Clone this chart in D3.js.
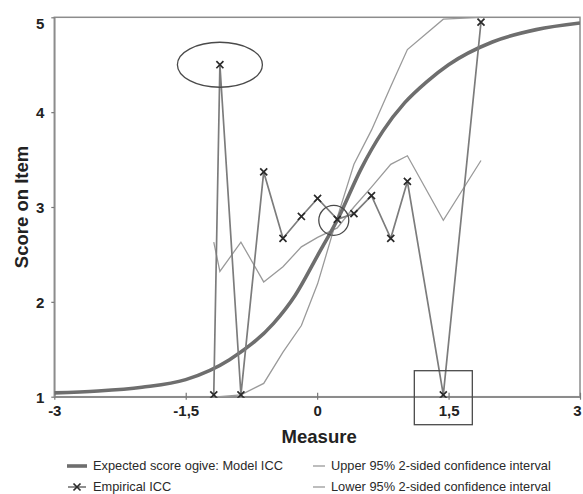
<!DOCTYPE html>
<html>
<head>
<meta charset="utf-8">
<script src="https://cdn.jsdelivr.net/npm/d3@7/dist/d3.min.js"></script>
<style>
  html, body { margin: 0; padding: 0; background: #fff; }
  svg { display: block; }
  text { font-family: "Liberation Sans", Arial, sans-serif; }
</style>
</head>
<body>
<svg id="chart" width="583" height="494"></svg>
<script>
// ---- Data ----
const xTicks = [-3, -1.5, 0, 1.5, 3];
const xTickLabels = ["-3", "-1,5", "0", "1,5", "3"];
const yTicks = [1, 2, 3, 4, 5];
const yTickLabels = ["1", "2", "3", "4", "5"];

// Expected score ogive (Model ICC)
const modelX = [-3, -2.5, -2, -1.5, -1, -0.5, -0.25, 0, 0.25, 0.5, 0.75, 1, 1.25, 1.5, 2, 2.5, 3];
const modelY = [1.04, 1.06, 1.10, 1.18, 1.39, 1.77, 2.07, 2.48, 2.90, 3.40, 3.80, 4.10, 4.32, 4.50, 4.74, 4.87, 4.94];

// Empirical ICC points
const empX = [-1.18, -1.11, -0.87, -0.61, -0.39, -0.18, 0.005, 0.23, 0.42, 0.62, 0.84, 1.03, 1.44, 1.87];
const empY = [1.02, 4.50, 1.02, 3.37, 2.67, 2.90, 3.09, 2.87, 2.93, 3.12, 2.67, 3.27, 1.02, 4.95];

// Confidence interval lines (same measure points)
const upperY = [2.63, 2.32, 2.63, 2.21, 2.37, 2.58, 2.68, 2.78, 3.00, 3.21, 3.45, 3.54, 2.86, 3.49];
const lowerY = [1.00, 1.00, 1.02, 1.14, 1.47, 1.75, 2.19, 2.89, 3.45, 3.81, 4.27, 4.66, 4.98, 5.00];

const legendLabels = [
  "Expected score ogive: Model ICC",
  "Empirical ICC",
  "Upper 95% 2-sided confidence interval",
  "Lower 95% 2-sided confidence interval"
];

(function () {
// ---- Layout ----
const svg = d3.select("#chart");
const pL = 54.3, pR = 580, pT = 17.3, pB = 396.7;
const x = d3.scaleLinear().domain([-3, 3]).range([pL, pR]);
const y = d3.scaleLinear().domain([1, 5]).range([pB, pT]);

const frameColor = "#8c8c8c";

// Frame (top & right)
svg.append("rect")
  .attr("x", pL).attr("y", pT)
  .attr("width", pR - pL).attr("height", pB - pT)
  .attr("fill", "none").attr("stroke", frameColor).attr("stroke-width", 1.5);

// Axes
const xAxis = d3.axisBottom(x).tickValues(xTicks)
  .tickFormat((d, i) => xTickLabels[i]).tickSizeInner(3).tickSizeOuter(0).tickPadding(6);
const gx = svg.append("g").attr("transform", `translate(0,${pB})`).call(xAxis);
gx.select(".domain").attr("stroke", frameColor).attr("stroke-width", 1.5);
gx.selectAll(".tick line").attr("stroke", "#777").attr("y1", -4).attr("y2", 3).attr("stroke-width", 1.2);
gx.selectAll(".tick text").attr("font-size", 15).attr("font-weight", "bold").attr("fill", "#222")
  .attr("font-family", "Liberation Sans, Arial, sans-serif")
  .attr("dx", (d) => d === 3 ? -3 : 0);

const yAxis = d3.axisLeft(y).tickValues(yTicks)
  .tickFormat((d, i) => yTickLabels[i]).tickSizeInner(3).tickSizeOuter(0).tickPadding(7);
const gy = svg.append("g").attr("transform", `translate(${pL},0)`).call(yAxis);
gy.select(".domain").attr("stroke", frameColor).attr("stroke-width", 1.5);
gy.selectAll(".tick line").attr("stroke", "#777").attr("stroke-width", 1.2);
gy.selectAll(".tick text").attr("font-size", 15).attr("font-weight", "bold").attr("fill", "#222")
  .attr("font-family", "Liberation Sans, Arial, sans-serif")
  .attr("dy", (d) => d === 5 ? "0.75em" : "0.38em");

// Axis titles
svg.append("text").attr("x", (pL + pR) / 2 + 2).attr("y", 443)
  .attr("text-anchor", "middle").attr("font-size", 18.5).attr("font-weight", "bold").attr("fill", "#222")
  .text("Measure");
svg.append("text").attr("transform", `translate(28,${(pT + pB) / 2}) rotate(-90)`)
  .attr("text-anchor", "middle").attr("font-size", 18.5).attr("font-weight", "bold").attr("fill", "#222")
  .text("Score on Item");

// Clip
svg.append("clipPath").attr("id", "plotclip").append("rect")
  .attr("x", pL).attr("y", pT - 1).attr("width", pR - pL).attr("height", pB - pT + 2);
const plot = svg.append("g").attr("clip-path", "url(#plotclip)");

// CI lines
const ciLine = d3.line().x((d) => x(d[0])).y((d) => y(d[1]));
plot.append("path").datum(empX.map((v, i) => [v, upperY[i]]))
  .attr("d", ciLine).attr("fill", "none").attr("stroke", "#9a9a9a").attr("stroke-width", 1.3);
plot.append("path").datum(empX.map((v, i) => [v, lowerY[i]]))
  .attr("d", ciLine).attr("fill", "none").attr("stroke", "#9a9a9a").attr("stroke-width", 1.3);

// Model ICC
const modelLine = d3.line().x((d) => x(d[0])).y((d) => y(d[1])).curve(d3.curveMonotoneX);
plot.append("path").datum(modelX.map((v, i) => [v, modelY[i]]))
  .attr("d", modelLine).attr("fill", "none").attr("stroke", "#6e6e6e").attr("stroke-width", 3.6);

// Empirical ICC
plot.append("path").datum(empX.map((v, i) => [v, empY[i]]))
  .attr("d", ciLine).attr("fill", "none").attr("stroke", "#7c7c7c").attr("stroke-width", 1.7);

const cross = d3.symbol().type(d3.symbolTimes).size(34);
plot.selectAll(".emp").data(empX.map((v, i) => [v, empY[i]])).join("path")
  .attr("transform", (d) => `translate(${x(d[0])},${y(d[1])})`)
  .attr("d", cross).attr("fill", "none").attr("stroke", "#2a2a2a").attr("stroke-width", 1.7);

// Annotations
const annColor = "#4a4a4a";
svg.append("ellipse").attr("cx", x(empX[1])).attr("cy", y(empY[1]))
  .attr("rx", 42.5).attr("ry", 22.5).attr("fill", "none").attr("stroke", annColor).attr("stroke-width", 1.3);
svg.append("circle").attr("cx", x(0.19)).attr("cy", y(2.86))
  .attr("r", 15).attr("fill", "none").attr("stroke", annColor).attr("stroke-width", 1.3);
svg.append("rect").attr("x", x(empX[12]) - 29).attr("y", y(1) - 26)
  .attr("width", 58).attr("height", 54).attr("fill", "none").attr("stroke", annColor).attr("stroke-width", 1.3);

// Legend
const lg = svg.append("g");
const lfs = 12.8;
const r1 = 466, r2 = 487;
lg.append("line").attr("x1", 67).attr("x2", 87).attr("y1", r1).attr("y2", r1)
  .attr("stroke", "#6e6e6e").attr("stroke-width", 3.6);
lg.append("text").attr("x", 93).attr("y", r1).attr("dy", "0.35em").attr("font-size", lfs).attr("fill", "#2a2a2a").text(legendLabels[0]);
lg.append("line").attr("x1", 68).attr("x2", 86).attr("y1", r2).attr("y2", r2)
  .attr("stroke", "#7c7c7c").attr("stroke-width", 1.7);
lg.append("path").attr("transform", `translate(77,${r2})`).attr("d", cross)
  .attr("fill", "none").attr("stroke", "#2a2a2a").attr("stroke-width", 1.7);
lg.append("text").attr("x", 93).attr("y", r2).attr("dy", "0.35em").attr("font-size", lfs).attr("fill", "#2a2a2a").text(legendLabels[1]);
lg.append("line").attr("x1", 313).attr("x2", 325).attr("y1", r1).attr("y2", r1)
  .attr("stroke", "#9a9a9a").attr("stroke-width", 1.3);
lg.append("text").attr("x", 331).attr("y", r1).attr("dy", "0.35em").attr("font-size", lfs).attr("fill", "#2a2a2a").text(legendLabels[2]);
lg.append("line").attr("x1", 313).attr("x2", 325).attr("y1", r2).attr("y2", r2)
  .attr("stroke", "#9a9a9a").attr("stroke-width", 1.3);
lg.append("text").attr("x", 331).attr("y", r2).attr("dy", "0.35em").attr("font-size", lfs).attr("fill", "#2a2a2a").text(legendLabels[3]);
})();
</script>
</body>
</html>
